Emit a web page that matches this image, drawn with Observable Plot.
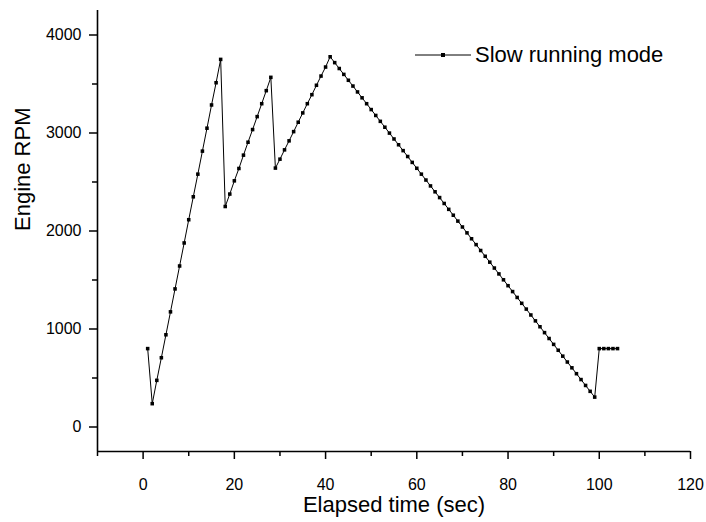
<!DOCTYPE html>
<html>
<head>
<meta charset="utf-8">
<script src="https://cdn.jsdelivr.net/npm/d3@7"></script>
<script src="https://cdn.jsdelivr.net/npm/@observablehq/plot@0.6"></script>
<style>
  body { margin: 0; background: white; }
  #wrap { position: relative; width: 706px; height: 522px; font-family: "Liberation Sans", Arial, sans-serif; }
  #legend { position: absolute; left: 415px; top: 42px; display: flex; align-items: center; font-size: 22px; color: #000; }
  #legend svg { display: block; margin-right: 3px; }
</style>
</head>
<body>
<div id="wrap"><div id="legend"></div></div>
<script>
const seriesName = "Slow running mode";
const xTitle = "Elapsed time (sec)";
const yTitle = "Engine RPM";

const time = [
  1, 2, 3, 4, 5, 6, 7, 8, 9, 10, 11, 12, 13, 14, 15, 16, 17, 18, 19, 20,
  21, 22, 23, 24, 25, 26, 27, 28, 29, 30, 31, 32, 33, 34, 35, 36, 37, 38, 39, 40,
  41, 42, 43, 44, 45, 46, 47, 48, 49, 50, 51, 52, 53, 54, 55, 56, 57, 58, 59, 60,
  61, 62, 63, 64, 65, 66, 67, 68, 69, 70, 71, 72, 73, 74, 75, 76, 77, 78, 79, 80,
  81, 82, 83, 84, 85, 86, 87, 88, 89, 90, 91, 92, 93, 94, 95, 96, 97, 98, 99, 100,
  101, 102, 103, 104
];
const rpm = [
  800, 238, 476, 707, 941, 1175, 1409, 1643, 1878, 2115, 2349, 2580, 2815, 3049, 3286, 3513, 3751,
  2250, 2377, 2512, 2638, 2774, 2906, 3035, 3167, 3299, 3432, 3568,
  2642, 2733, 2828, 2920, 3014, 3110, 3205, 3299, 3391, 3487, 3581, 3673,
  3778, 3718, 3658, 3598, 3538, 3479, 3419, 3359, 3299, 3239,
  3179, 3119, 3059, 2999, 2939, 2880, 2820, 2760, 2700, 2640,
  2580, 2520, 2460, 2400, 2341, 2281, 2221, 2161, 2101, 2041,
  1981, 1921, 1861, 1801, 1742, 1682, 1622, 1562, 1502, 1442,
  1382, 1322, 1262, 1203, 1143, 1083, 1023, 963, 903, 843,
  783, 723, 663, 604, 544, 484, 424, 364, 305,
  800, 800, 800, 800, 800
];

const xMajorTicks = [0, 20, 40, 60, 80, 100, 120];
const xMinorTicks = [-10, 10, 30, 50, 70, 90, 110];
const yMajorTicks = [0, 1000, 2000, 3000, 4000];
const yMinorTicks = [500, 1500, 2500, 3500];

const data = time.map((t, i) => ({t, rpm: rpm[i]}));

const chart = Plot.plot({
  width: 706,
  height: 522,
  marginLeft: 97,
  marginRight: 16,
  marginTop: 10,
  marginBottom: 71,
  x: {domain: [-10, 120]},
  y: {domain: [-250, 4250]},
  style: {fontFamily: "'Liberation Sans', Arial, sans-serif", fontSize: "16px", color: "#000", background: "white"},
  marks: [
    Plot.axisX({ticks: xMajorTicks, tickSize: 8, tickPadding: 19, tickFormat: d => String(d), label: null, strokeWidth: 1.5}),
    Plot.axisX({ticks: xMinorTicks, tickSize: 5, tickFormat: () => "", label: null, strokeWidth: 1.5}),
    Plot.axisY({ticks: yMajorTicks, tickSize: 8, tickPadding: 8, tickFormat: d => String(d), label: null, strokeWidth: 1.5}),
    Plot.axisY({ticks: yMinorTicks, tickSize: 5, tickFormat: () => "", label: null, strokeWidth: 1.5}),
    Plot.ruleX([-10], {stroke: "#000", strokeWidth: 1.6}),
    Plot.ruleY([-250], {stroke: "#000", strokeWidth: 1.6}),
    Plot.line(data, {x: "t", y: "rpm", stroke: "#000", strokeWidth: 1}),
    Plot.dot(data, {x: "t", y: "rpm", symbol: "square", r: 2, fill: "#000", stroke: null}),
    Plot.text([xTitle], {frameAnchor: "bottom", dy: 60, fontSize: 22, fill: "#000"}),
    Plot.text([yTitle], {frameAnchor: "left", dx: -75, rotate: -90, fontSize: 22, fill: "#000"})
  ]
});

const wrap = document.getElementById("wrap");
wrap.insertBefore(chart, wrap.firstChild);

const legend = document.getElementById("legend");
legend.innerHTML = `<svg width="57" height="10"><line x1="0" y1="5" x2="56" y2="5" stroke="#000" stroke-width="1"/><rect x="26" y="3" width="4" height="4" fill="#000"/></svg><span>${seriesName}</span>`;
</script>
</body>
</html>
